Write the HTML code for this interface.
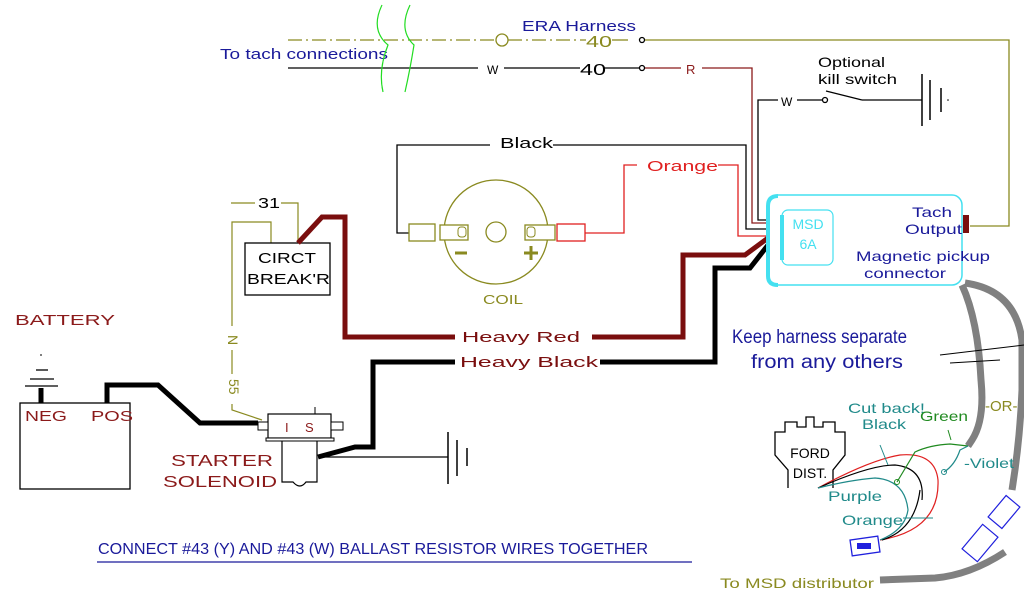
<!DOCTYPE html>
<html><head><meta charset="utf-8"><style>
html,body{margin:0;padding:0;background:#fff}
svg{display:block}
text{font-family:"Liberation Sans",sans-serif}
</style></head><body>
<svg width="1024" height="600" viewBox="0 0 1024 600" xmlns="http://www.w3.org/2000/svg">
<rect width="1024" height="600" fill="#fff"/>
<!-- Top harness -->
<text x="220" y="59" font-size="15" fill="#1a1a9a" textLength="168" lengthAdjust="spacingAndGlyphs">To tach connections</text>
<text x="522" y="31" font-size="15" fill="#1a1a9a" textLength="114" lengthAdjust="spacingAndGlyphs">ERA Harness</text>
<line x1="288" y1="40" x2="496" y2="40" stroke="#8a8a20" stroke-width="1.3" stroke-dasharray="14,4,2,4"/>
<circle cx="502" cy="40" r="6" fill="none" stroke="#8a8a20" stroke-width="1.3"/>
<line x1="508" y1="40" x2="586" y2="40" stroke="#8a8a20" stroke-width="1.3" stroke-dasharray="14,4,2,4"/>
<text x="586" y="47" font-size="16" fill="#8a8a20" textLength="26" lengthAdjust="spacingAndGlyphs">40</text>
<line x1="612" y1="40" x2="628" y2="40" stroke="#8a8a20" stroke-width="1.3"/>
<circle cx="642" cy="40" r="2.5" fill="none" stroke="#000" stroke-width="1.3"/>
<polyline points="645,40 1009,40 1009,226 970,226" fill="none" stroke="#8a8a20" stroke-width="1.3"/>
<line x1="288" y1="68" x2="478" y2="68" stroke="#000" stroke-width="1.3"/>
<text x="487" y="74" font-size="12" fill="#000">W</text>
<line x1="504" y1="68" x2="580" y2="68" stroke="#000" stroke-width="1.3"/>
<text x="580" y="75" font-size="16" fill="#000" textLength="26" lengthAdjust="spacingAndGlyphs">40</text>
<line x1="604" y1="68" x2="639" y2="68" stroke="#000" stroke-width="1.3"/>
<circle cx="642" cy="68" r="2.5" fill="none" stroke="#000" stroke-width="1.3"/>
<line x1="645" y1="68" x2="681" y2="68" stroke="#8b1a1a" stroke-width="1.3"/>
<text x="686" y="74" font-size="13" fill="#8b1a1a">R</text>
<polyline points="702,68 752,68 752,223 768,223" fill="none" stroke="#8b1a1a" stroke-width="1.3"/>
<path d="M382,5 Q370,30 388,45 Q378,70 383,92 M410,5 Q398,30 414,45 Q410,70 405,92" fill="none" stroke="#22dd22" stroke-width="1.2"/>
<!-- kill switch -->
<text x="818" y="67" font-size="14" fill="#000" textLength="67" lengthAdjust="spacingAndGlyphs">Optional</text>
<text x="818" y="84" font-size="14" fill="#000" textLength="79" lengthAdjust="spacingAndGlyphs">kill switch</text>
<polyline points="768,220 758,220 758,100 778,100" fill="none" stroke="#000" stroke-width="1.3"/>
<text x="781" y="106" font-size="12" fill="#000">W</text>
<line x1="797" y1="100" x2="822" y2="100" stroke="#000" stroke-width="1.3"/>
<circle cx="825" cy="100" r="2.5" fill="none" stroke="#000" stroke-width="1.3"/>
<line x1="826" y1="91" x2="862" y2="100" stroke="#000" stroke-width="1.3"/>
<line x1="862" y1="100" x2="922" y2="100" stroke="#000" stroke-width="1.3"/>
<line x1="922" y1="74" x2="922" y2="126" stroke="#000" stroke-width="1.5"/>
<line x1="930" y1="80" x2="930" y2="120" stroke="#000" stroke-width="1.5"/>
<line x1="941" y1="88" x2="941" y2="112" stroke="#000" stroke-width="1.5"/>
<circle cx="948" cy="100" r="0.8" fill="#000"/>
<!-- Black & Orange coil leads -->
<polyline points="409,233 397,233 397,145 490,145" fill="none" stroke="#000" stroke-width="1.3"/>
<text x="500" y="148" font-size="15" fill="#000" textLength="53" lengthAdjust="spacingAndGlyphs">Black</text>
<polyline points="553,145 746,145 746,229 768,229" fill="none" stroke="#000" stroke-width="1.3"/>
<polyline points="585,233 624,233 624,165 637,165" fill="none" stroke="#e02020" stroke-width="1.3"/>
<text x="647" y="171" font-size="15" fill="#e02020" textLength="71" lengthAdjust="spacingAndGlyphs">Orange</text>
<polyline points="718,165 738,165 738,236 768,236" fill="none" stroke="#e02020" stroke-width="1.3"/>
<!-- coil -->
<circle cx="496" cy="232" r="52" fill="none" stroke="#8a8a20" stroke-width="1.3"/>
<circle cx="496" cy="232" r="10" fill="none" stroke="#8a8a20" stroke-width="1.3"/>
<rect x="409" y="224" width="26" height="17" fill="#fff" stroke="#8a8a20" stroke-width="1.3"/>
<rect x="440" y="225" width="28" height="15" fill="#fff" stroke="#8a8a20" stroke-width="1.3"/>
<rect x="458" y="227" width="8" height="10" rx="3" fill="none" stroke="#8a8a20"/>
<rect x="525" y="225" width="30" height="15" fill="#fff" stroke="#8a8a20" stroke-width="1.3"/>
<rect x="527" y="227" width="8" height="10" rx="3" fill="none" stroke="#8a8a20"/>
<rect x="557" y="224" width="28" height="17" fill="#fff" stroke="#e02020" stroke-width="1.3"/>
<line x1="455" y1="253" x2="467" y2="253" stroke="#8a8a20" stroke-width="3"/>
<line x1="524" y1="253" x2="538" y2="253" stroke="#8a8a20" stroke-width="3"/>
<line x1="531" y1="246" x2="531" y2="260" stroke="#8a8a20" stroke-width="3"/>
<text x="483" y="304" font-size="13" fill="#8a8a20" textLength="40" lengthAdjust="spacingAndGlyphs">COIL</text>
<!-- circuit breaker -->
<polyline points="231,203 255,203" fill="none" stroke="#8a8a20" stroke-width="1.2"/>
<text x="258" y="208" font-size="15" fill="#000" textLength="22" lengthAdjust="spacingAndGlyphs">31</text>
<polyline points="281,203 298,203 298,243" fill="none" stroke="#8a8a20" stroke-width="1.2"/>
<polyline points="271,243 271,222 232,222 232,326" fill="none" stroke="#8a8a20" stroke-width="1.2"/>
<text x="226" y="343" font-size="14" fill="#8a8a20" transform="rotate(90 231 340)">N</text>
<line x1="232" y1="350" x2="232" y2="374" stroke="#8a8a20" stroke-width="1.2"/>
<text x="224" y="388" font-size="14" fill="#8a8a20" transform="rotate(90 231 386)">55</text>
<polyline points="232,404 232,410 262,420" fill="none" stroke="#8a8a20" stroke-width="1.2"/>
<rect x="245" y="243" width="85" height="52" fill="#fff" stroke="#000" stroke-width="1.3"/>
<text x="258" y="263" font-size="15" fill="#000" textLength="58" lengthAdjust="spacingAndGlyphs">CIRCT</text>
<text x="247" y="284" font-size="15" fill="#000" textLength="83" lengthAdjust="spacingAndGlyphs">BREAK'R</text>
<!-- heavy red -->
<polyline points="298,243 322,217 345,217 345,337 455,337" fill="none" stroke="#7a0e0e" stroke-width="5"/>
<text x="462" y="342" font-size="15" fill="#7a0e0e" textLength="118" lengthAdjust="spacingAndGlyphs">Heavy Red</text>
<polyline points="592,337 683,337 683,255 745,255 768,238" fill="none" stroke="#7a0e0e" stroke-width="5"/>
<!-- heavy black -->
<polyline points="318,457 355,447 373,447 373,362 455,362" fill="none" stroke="#000" stroke-width="5"/>
<text x="460" y="367" font-size="15" fill="#7a0e0e" textLength="138" lengthAdjust="spacingAndGlyphs">Heavy Black</text>
<polyline points="600,362 715,362 715,268 750,268 768,245" fill="none" stroke="#000" stroke-width="5"/>
<!-- MSD box -->
<rect x="768" y="195" width="194" height="90" rx="10" fill="#fff" stroke="#44e0f0" stroke-width="1.5"/>
<path d="M778,196 Q768,196 768,206 L768,276 Q768,285 778,285" fill="none" stroke="#44e0f0" stroke-width="4"/>
<rect x="782" y="210" width="51" height="55" rx="6" fill="none" stroke="#44e0f0" stroke-width="1.2"/>
<line x1="782" y1="215" x2="782" y2="260" stroke="#44e0f0" stroke-width="4"/>
<text x="808" y="229" font-size="14" fill="#44e0f0" text-anchor="middle">MSD</text>
<text x="808" y="249" font-size="14" fill="#44e0f0" text-anchor="middle">6A</text>
<text x="912" y="217" font-size="14" fill="#1a1a9a" textLength="40" lengthAdjust="spacingAndGlyphs">Tach</text>
<text x="905" y="234" font-size="14" fill="#1a1a9a" textLength="57" lengthAdjust="spacingAndGlyphs">Output</text>
<rect x="963" y="215" width="6" height="18" fill="#7a0e0e"/>
<text x="856" y="261" font-size="14" fill="#1a1a9a" textLength="134" lengthAdjust="spacingAndGlyphs">Magnetic pickup</text>
<text x="864" y="278" font-size="14" fill="#1a1a9a" textLength="82" lengthAdjust="spacingAndGlyphs">connector</text>
<text x="732" y="343" font-size="19" fill="#1a1a9a" textLength="175" lengthAdjust="spacingAndGlyphs">Keep harness separate</text>
<text x="751" y="368" font-size="19" fill="#1a1a9a" textLength="152" lengthAdjust="spacingAndGlyphs">from any others</text>
<!-- gray cables -->
<path d="M962,285 Q978,320 981,380 Q985,420 972,440 L968,446" fill="none" stroke="#808080" stroke-width="7"/>
<path d="M965,283 Q1015,290 1022,340 L1022,390 Q1020,440 1012,490" fill="none" stroke="#808080" stroke-width="7"/>
<path d="M1005,552 Q970,575 935,578 L880,580" fill="none" stroke="#808080" stroke-width="7"/>
<polyline points="940,355 1024,345" stroke="#000" stroke-width="1" fill="none"/>
<polyline points="950,363 1000,360" stroke="#000" stroke-width="1" fill="none"/>
<text x="985" y="411" font-size="15" fill="#8a8a20">-OR-</text>
<g fill="#fff" stroke="#2020dd" stroke-width="1.2">
<rect x="995" y="498" width="18" height="28" transform="rotate(40 1004 512)"/>
<rect x="970" y="527" width="20" height="32" transform="rotate(40 980 543)"/>
</g>
<!-- Ford distributor -->
<path d="M788,488 L788,470 L775,455 L775,432 L785,432 L785,422 L797,422 L797,427 L806,427 L806,417 L814,417 L814,427 L823,427 L823,422 L835,422 L835,432 L845,432 L845,455 L833,470 L833,488" fill="none" stroke="#000" stroke-width="1.3"/>
<text x="810" y="458" font-size="14" fill="#000" text-anchor="middle">FORD</text>
<text x="810" y="478" font-size="14" fill="#000" text-anchor="middle">DIST.</text>
<!-- pickup wires -->
<path d="M818,488 Q870,460 900,455 Q935,452 938,480 Q940,530 880,540" fill="none" stroke="#e02020" stroke-width="1.2"/>
<path d="M818,488 Q870,465 895,465 Q925,468 922,500 M920,490 Q915,530 882,540" fill="none" stroke="#000" stroke-width="1.2"/>
<path d="M818,488 Q850,480 875,478 Q905,480 908,510 Q905,530 880,540" fill="none" stroke="#208a8a" stroke-width="1.2"/>
<path d="M897,482 L915,452 Q930,445 950,444 L968,446" fill="none" stroke="#208a20" stroke-width="1.2"/>
<path d="M944,472 Q955,465 960,450 L968,446" fill="none" stroke="#208a8a" stroke-width="1.2"/>
<circle cx="897" cy="482" r="2.5" fill="none" stroke="#208a20"/>
<circle cx="944" cy="472" r="2.5" fill="none" stroke="#208a8a"/>
<line x1="903" y1="518" x2="933" y2="518" stroke="#208a8a" stroke-width="1"/>
<line x1="880" y1="445" x2="888" y2="465" stroke="#208a8a" stroke-width="1"/>
<line x1="948" y1="430" x2="951" y2="440" stroke="#208a20" stroke-width="1"/>
<rect x="851" y="538" width="28" height="16" fill="none" stroke="#2020dd" stroke-width="1.3" transform="rotate(-8 865 546)"/>
<rect x="857" y="543" width="14" height="6" fill="#2020dd"/>
<text x="848" y="413" font-size="14" fill="#208a8a" textLength="77" lengthAdjust="spacingAndGlyphs">Cut back!</text>
<text x="862" y="429" font-size="14" fill="#208a8a" textLength="44" lengthAdjust="spacingAndGlyphs">Black</text>
<text x="920" y="421" font-size="14" fill="#208a20" textLength="48" lengthAdjust="spacingAndGlyphs">Green</text>
<text x="964" y="468" font-size="14" fill="#208a8a" textLength="50" lengthAdjust="spacingAndGlyphs">-Violet</text>
<text x="828" y="501" font-size="14" fill="#208a8a" textLength="54" lengthAdjust="spacingAndGlyphs">Purple</text>
<text x="842" y="525" font-size="14" fill="#208a8a" textLength="61" lengthAdjust="spacingAndGlyphs">Orange</text>
<text x="720" y="588" font-size="14" fill="#8a8a20" textLength="154" lengthAdjust="spacingAndGlyphs">To MSD distributor</text>
<!-- battery -->
<text x="15" y="325" font-size="15" fill="#8b1a1a" textLength="100" lengthAdjust="spacingAndGlyphs">BATTERY</text>
<rect x="20" y="403" width="110" height="86" fill="#fff" stroke="#000" stroke-width="1.3"/>
<text x="25" y="421" font-size="15" fill="#8b1a1a" textLength="42" lengthAdjust="spacingAndGlyphs">NEG</text>
<text x="91" y="421" font-size="15" fill="#8b1a1a" textLength="42" lengthAdjust="spacingAndGlyphs">POS</text>
<line x1="41" y1="388" x2="41" y2="403" stroke="#000" stroke-width="5"/>
<line x1="25" y1="386" x2="58" y2="386" stroke="#000" stroke-width="1.3"/>
<line x1="30" y1="379" x2="54" y2="379" stroke="#000" stroke-width="1.3"/>
<line x1="36" y1="370" x2="48" y2="370" stroke="#000" stroke-width="1.3"/>
<line x1="41" y1="354" x2="41" y2="356" stroke="#000" stroke-width="1"/>
<polyline points="107,403 107,385 158,385 200,423 258,423" fill="none" stroke="#000" stroke-width="5"/>
<!-- solenoid -->
<rect x="268" y="414" width="63" height="24" fill="#fff" stroke="#000" stroke-width="1.2"/>
<rect x="258" y="422" width="10" height="8" fill="#fff" stroke="#000" stroke-width="1"/>
<rect x="331" y="422" width="12" height="8" fill="#fff" stroke="#000" stroke-width="1"/>
<rect x="266" y="438" width="68" height="3" fill="#fff" stroke="#000" stroke-width="1"/>
<line x1="315" y1="407" x2="315" y2="414" stroke="#000"/>
<text x="285" y="432" font-size="13" fill="#8b1a1a">I</text>
<text x="305" y="432" font-size="13" fill="#8b1a1a">S</text>
<path d="M282,441 L282,482 L293,482 Q300,490 306,482 L317,482 L317,441" fill="none" stroke="#000" stroke-width="1.2"/>
<text x="171" y="466" font-size="16" fill="#8b1a1a" textLength="102" lengthAdjust="spacingAndGlyphs">STARTER</text>
<text x="163" y="487" font-size="16" fill="#8b1a1a" textLength="114" lengthAdjust="spacingAndGlyphs">SOLENOID</text>
<line x1="318" y1="457" x2="448" y2="457" stroke="#000" stroke-width="1.2"/>
<line x1="448" y1="432" x2="448" y2="484" stroke="#000" stroke-width="1.5"/>
<line x1="457" y1="440" x2="457" y2="476" stroke="#000" stroke-width="1.5"/>
<line x1="467" y1="448" x2="467" y2="466" stroke="#000" stroke-width="1.5"/>
<!-- bottom note -->
<text x="98" y="554" font-size="16" fill="#1a1a9a" textLength="550" lengthAdjust="spacingAndGlyphs">CONNECT #43 (Y) AND #43 (W) BALLAST RESISTOR WIRES TOGETHER</text>
<line x1="97" y1="562" x2="692" y2="562" stroke="#1a1a9a" stroke-width="1.3"/>
</svg>
</body></html>
